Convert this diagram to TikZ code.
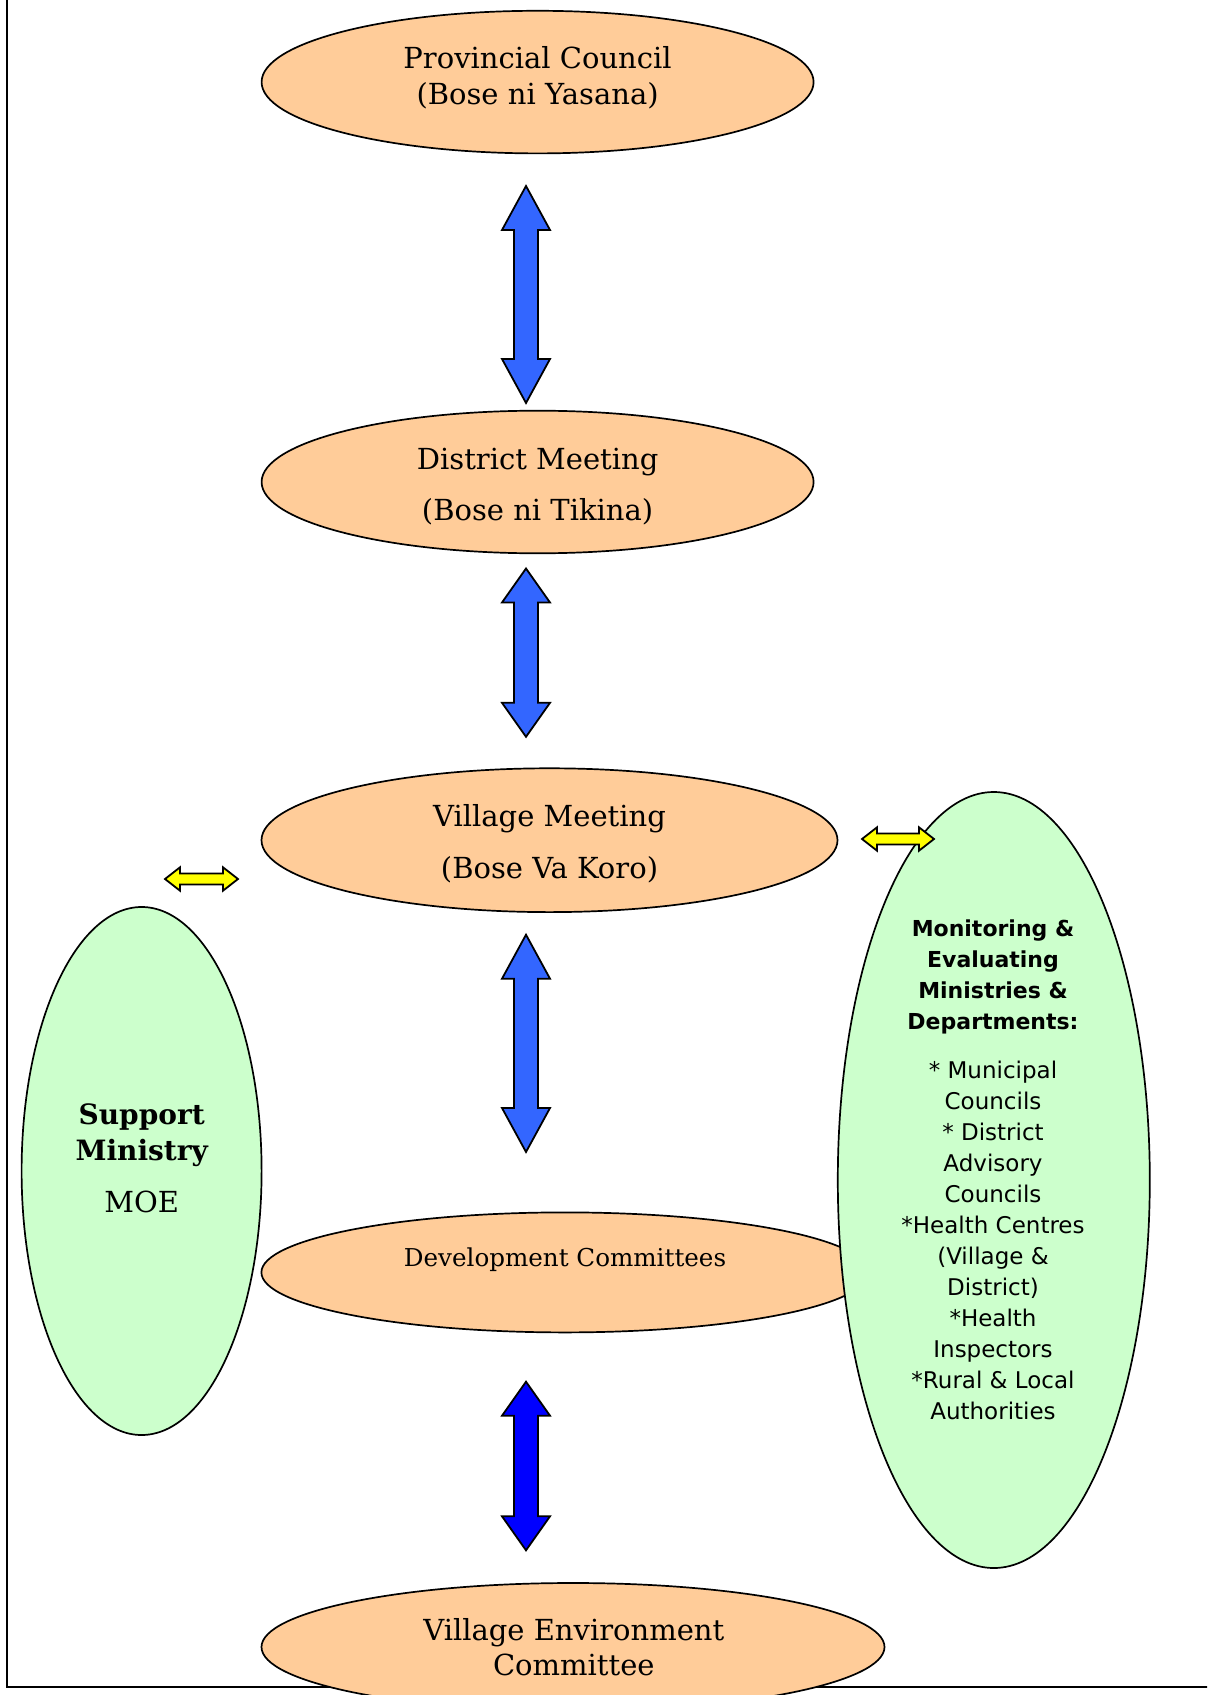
\documentclass[tikz,border=0pt]{standalone}
\usepackage{fontspec}
\setmainfont{DejaVu Serif}
\newfontfamily\tahomalike{DejaVu Sans}
\usetikzlibrary{shapes.geometric}
\definecolor{orangefill}{HTML}{FFCC99}
\definecolor{greenfill}{HTML}{CCFFCC}
\definecolor{blueA}{HTML}{3366FF}
\definecolor{blueB}{HTML}{0000FF}
\definecolor{yellowfill}{HTML}{FFFF00}
\tikzset{
  orangeell/.style={ellipse, draw=black, line width=0.85pt, fill=orangefill, inner sep=0pt},
  greenell/.style={ellipse, draw=black, line width=0.85pt, fill=greenfill, inner sep=0pt},
  blockarrow/.style={draw=black, line width=0.9pt, line join=miter},
  frameline/.style={draw=black, line width=1.1pt},
  seriftext/.style={align=center, inner sep=0pt, font=\fontsize{14.5}{18.4}\selectfont},
  sanstext/.style={align=center, inner sep=0pt, font=\tahomalike\fontsize{11.5}{15.5}\selectfont},
}
% vertical double block arrow: name, centre x, top y, bottom y, colour, head length
\newcommand\VBlockArrow[6]{%
  \path[blockarrow, fill=#5] (#2,#3) coordinate (#1-top)
    -- ({#2+24},{#3+#6}) -- ({#2+12},{#3+#6}) -- ({#2+12},{#4-#6}) -- ({#2+24},{#4-#6})
    -- (#2,#4) coordinate (#1-bot)
    -- ({#2-24},{#4-#6}) -- ({#2-12},{#4-#6}) -- ({#2-12},{#3+#6}) -- ({#2-24},{#3+#6}) -- cycle;}
% horizontal double block arrow: name, left x, right x, centre y
\newcommand\HBlockArrow[4]{%
  \path[blockarrow, fill=yellowfill] (#2,#4) coordinate (#1-left)
    -- ({#2+15},{#4-11.7}) -- ({#2+15},{#4-5.5}) -- ({#3-15},{#4-5.5}) -- ({#3-15},{#4-11.7})
    -- (#3,#4) coordinate (#1-right)
    -- ({#3-15},{#4+11.7}) -- ({#3-15},{#4+5.5}) -- ({#2+15},{#4+5.5}) -- ({#2+15},{#4+11.7}) -- cycle;}
\begin{document}
\begin{tikzpicture}[x=0.5pt, y=-0.5pt]
\useasboundingbox (0,0) rectangle (1207,1695);
\clip (0,0) rectangle (1207,1695);
% frame
\coordinate (ftop) at (7,-5);
\coordinate (fcorner) at (7,1687);
\coordinate (fright) at (1215,1687);
\draw[frameline] (ftop) -- (fcorner) -- (fright);
% orange ellipses
\node[orangeell, minimum width=276pt, minimum height=71.3pt] (pc) at (537.6,82.1) {};
\node[orangeell, minimum width=276pt, minimum height=71.3pt] (dm) at (537.6,482) {};
\node[orangeell, minimum width=288pt, minimum height=71.9pt] (vm) at (549.5,840.2) {};
\node[orangeell, minimum width=303.6pt, minimum height=60pt] (dc) at (565,1272.4) {};
\node[orangeell, minimum width=311.5pt, minimum height=64pt] (vec) at (573,1647) {};
% green ellipses
\node[greenell, minimum width=120pt, minimum height=264pt] (sm) at (141.6,1171) {};
\node[greenell, minimum width=156pt, minimum height=388pt] (me) at (993.8,1180) {};
% blue arrows
\VBlockArrow{a1}{526}{186}{403}{blueA}{44}
\VBlockArrow{a2}{526}{568.5}{736.8}{blueA}{34}
\VBlockArrow{a3}{526}{934.7}{1152}{blueA}{44}
\VBlockArrow{a4}{526}{1381.7}{1550.3}{blueB}{34}
% yellow arrows
\HBlockArrow{y1}{165}{238}{879}
\HBlockArrow{y2}{862}{934}{839}
% texts
\node[seriftext] (pct) at (537.6,77.7) {Provincial Council\\(Bose ni Yasana)};
\node[seriftext, font=\fontsize{14.5}{25.5}\selectfont] (dmt) at (537.6,486.7) {District Meeting\\(Bose ni Tikina)};
\node[seriftext, font=\fontsize{14.5}{26}\selectfont] (vmt) at (549.5,843.9) {Village Meeting\\(Bose Va Koro)};
\node[seriftext, font=\fontsize{12.3}{15}\selectfont] (dct) at (565,1259.9) {Development Committees};
\node[seriftext, font=\fontsize{14.5}{17.8}\selectfont] (vect) at (573.8,1647.3) {Village Environment\\Committee};
\node[seriftext, font=\bfseries\fontsize{14}{18}\selectfont] (smt) at (141.7,1135.2) {Support\\Ministry};
\node[seriftext] (smoe) at (141.7,1201.6) {MOE};
\node[sanstext, font=\tahomalike\bfseries\fontsize{11}{15.5}\selectfont] (met) at (993,976.8) {Monitoring \&\\Evaluating\\Ministries \&\\Departments:};
\node[sanstext] (mel) at (993,1240.2) {* Municipal\\Councils\\* District\\Advisory\\Councils\\*Health Centres\\(Village \&\\District)\\*Health\\Inspectors\\*Rural \& Local\\Authorities};
\end{tikzpicture}
\end{document}
